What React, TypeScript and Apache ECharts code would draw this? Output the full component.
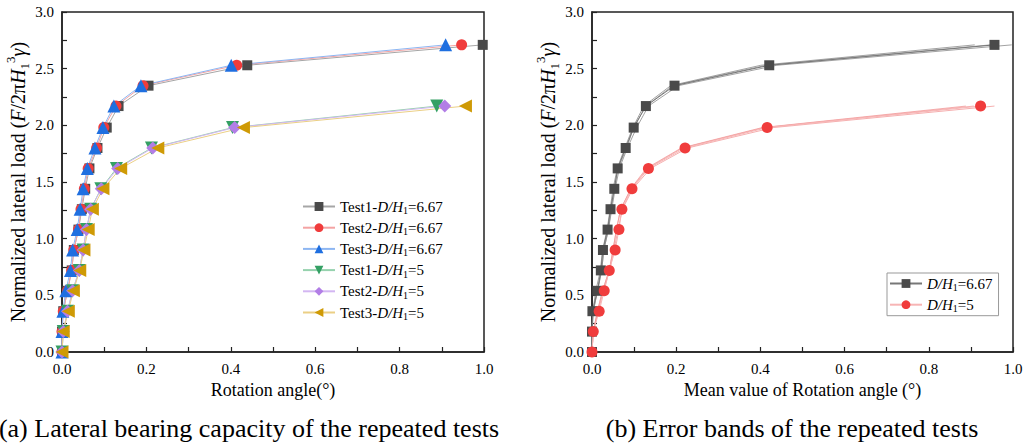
import React, { useEffect, useRef } from 'react';
import * as echarts from 'echarts';

const FONT = 'Liberation Serif';

// Normalized lateral load levels
const loads667 = [0, 0.18, 0.36, 0.54, 0.72, 0.9, 1.08, 1.26, 1.44, 1.62, 1.8, 1.98, 2.17, 2.35, 2.53, 2.71];
const loads5 = [0, 0.18, 0.36, 0.54, 0.72, 0.9, 1.08, 1.26, 1.44, 1.62, 1.8, 1.98, 2.17];

// Rotation angles (deg), panel (a)
const test1Rot667 = [0, 0, 0.003, 0.013, 0.023, 0.028, 0.039, 0.047, 0.055, 0.065, 0.084, 0.106, 0.134, 0.205, 0.439, 0.997];
const test2Rot667 = [0, 0, 0.003, 0.013, 0.023, 0.028, 0.039, 0.045, 0.053, 0.062, 0.082, 0.099, 0.128, 0.192, 0.414, 0.947];
const test3Rot667 = [0, 0, 0.002, 0.009, 0.02, 0.025, 0.036, 0.043, 0.05, 0.06, 0.078, 0.097, 0.123, 0.187, 0.401, 0.909];
const test1Rot5 = [0, 0.003, 0.013, 0.025, 0.041, 0.05, 0.058, 0.068, 0.092, 0.129, 0.212, 0.404, 0.888];
const test2Rot5 = [0, 0.003, 0.013, 0.025, 0.041, 0.05, 0.058, 0.068, 0.093, 0.132, 0.215, 0.409, 0.907];
const test3Rot5 = [0, 0.003, 0.015, 0.027, 0.042, 0.052, 0.062, 0.072, 0.097, 0.139, 0.227, 0.43, 0.956];

// Mean rotation angles, panel (b)
const meanRot667 = [0, 0, 0.001, 0.013, 0.021, 0.026, 0.037, 0.044, 0.053, 0.061, 0.08, 0.099, 0.128, 0.196, 0.421, 0.956];
const meanRot5 = [0, 0.003, 0.017, 0.029, 0.041, 0.055, 0.064, 0.071, 0.095, 0.134, 0.221, 0.416, 0.923];

const xTicks = ['0.0', '0.2', '0.4', '0.6', '0.8', '1.0'];
const yTicks = ['0.0', '0.5', '1.0', '1.5', '2.0', '2.5', '3.0'];

const pair = (xs: number[], ys: number[]) => xs.map((x, i) => [x, ys[i]]);

const richBase = {
  t: { fontFamily: FONT, fontSize: 20, color: '#000', lineHeight: 27 },
  i: { fontFamily: FONT, fontSize: 20, fontStyle: 'italic', color: '#000', lineHeight: 27 },
  sub: { fontFamily: FONT, fontSize: 13, color: '#000', lineHeight: 13, verticalAlign: 'bottom' },
  sup: { fontFamily: FONT, fontSize: 13, color: '#000', lineHeight: 13, verticalAlign: 'top' },
};

const legRich = {
  t: { fontFamily: FONT, fontSize: 15, color: '#000', lineHeight: 18 },
  i: { fontFamily: FONT, fontSize: 15, fontStyle: 'italic', color: '#000', lineHeight: 18 },
  sub: { fontFamily: FONT, fontSize: 10, color: '#000', lineHeight: 10, verticalAlign: 'bottom' },
};

const yName = '{t|Normalized lateral load (}{i|F}{t|/2π}{i|H}{sub|1}{sup|3}{i|γ}{t|)}';

function legendLabel(name: string) {
  const m = name.match(/^(Test\d-)?D\/H1=(.*)$/);
  if (!m) return name;
  return `{t|${m[1] || ''}}{i|D/H}{sub|1}{t|=${m[2]}}`;
}

function makeX(gridIndex: number, name: string) {
  return {
    type: 'value', gridIndex, min: 0, max: 1, interval: 0.2,
    name, nameLocation: 'middle', nameGap: 26,
    nameTextStyle: { fontFamily: FONT, fontSize: 18, color: '#000' },
    axisLine: { show: true, onZero: false, lineStyle: { color: '#222', width: 1.5 } },
    axisTick: { show: true, inside: true, length: 5, lineStyle: { color: '#222', width: 1.2 } },
    minorTick: { show: true, splitNumber: 2, length: 5, lineStyle: { color: '#222', width: 1.2 } },
    splitLine: { show: false },
    axisLabel: {
      fontFamily: FONT, fontSize: 15, color: '#000', margin: 9,
      formatter: (v: number) => xTicks[Math.round(v / 0.2)] ?? '',
    },
  };
}

function makeY(gridIndex: number) {
  return {
    type: 'value', gridIndex, min: 0, max: 3, interval: 0.5,
    name: yName, nameLocation: 'middle', nameGap: 28, nameRotate: 90,
    nameTextStyle: { fontFamily: FONT, rich: richBase },
    axisLine: { show: true, onZero: false, lineStyle: { color: '#222', width: 1.5 } },
    axisTick: { show: true, inside: true, length: 5, lineStyle: { color: '#222', width: 1.2 } },
    minorTick: { show: true, splitNumber: 2, length: 5, lineStyle: { color: '#222', width: 1.2 } },
    splitLine: { show: false },
    axisLabel: {
      fontFamily: FONT, fontSize: 15, color: '#000', margin: 8,
      formatter: (v: number) => yTicks[Math.round(v / 0.5)] ?? '',
    },
  };
}

function testSeries(name: string, xs: number[], ys: number[], symbol: string, rotate: number, size: number, color: string, lineColor: string) {
  return {
    type: 'line', name, xAxisIndex: 0, yAxisIndex: 0,
    data: pair(xs, ys), symbol, symbolRotate: rotate, symbolSize: size,
    showAllSymbol: true,
    itemStyle: { color, borderWidth: 0 },
    lineStyle: { color: lineColor, width: 1 },
    emphasis: { disabled: true },
  };
}

function bandSeries(name: string, xs: number[], ys: number[], color: string) {
  return {
    type: 'line', name, xAxisIndex: 1, yAxisIndex: 1,
    data: pair(xs, ys), symbol: 'none',
    lineStyle: { color, width: 0.8 },
    emphasis: { disabled: true },
  };
}

export default function App() {
  const ref = useRef<HTMLDivElement>(null);
  useEffect(() => {
    if (!ref.current) return;
    const chart = echarts.init(ref.current, undefined, { renderer: 'svg' });
    const s1 = 'Test1-D/H1=6.67', s2 = 'Test2-D/H1=6.67', s3 = 'Test3-D/H1=6.67';
    const s4 = 'Test1-D/H1=5', s5 = 'Test2-D/H1=5', s6 = 'Test3-D/H1=5';
    const m1 = 'D/H1=6.67', m2 = 'D/H1=5';
    chart.setOption({
      animation: false,
      backgroundColor: '#fff',
      textStyle: { fontFamily: FONT },
      grid: [
        { left: 62, top: 12, width: 422, height: 340, show: true, borderColor: '#222', borderWidth: 1.5, backgroundColor: 'transparent' },
        { left: 592, top: 12, width: 421, height: 340, show: true, borderColor: '#222', borderWidth: 1.5, backgroundColor: 'transparent' },
      ],
      xAxis: [makeX(0, 'Rotation angle(°)'), makeX(1, 'Mean value of Rotation angle (°)')],
      yAxis: [makeY(0), makeY(1)],
      legend: [
        {
          data: [s1, s2, s3, s4, s5, s6], orient: 'vertical', left: 300, top: 197,
          itemWidth: 32, itemHeight: 11, itemGap: 4.7, padding: 2,
          formatter: legendLabel, textStyle: { fontFamily: FONT, rich: legRich },
          selectedMode: false,
        },
        {
          data: [m1, m2], orient: 'vertical', left: 887, top: 273,
          itemWidth: 32, itemHeight: 11, itemGap: 4.7, padding: [3, 6, 2, 2],
          borderColor: '#999', borderWidth: 1,
          formatter: legendLabel, textStyle: { fontFamily: FONT, rich: legRich },
          selectedMode: false,
        },
      ],
      series: [
        testSeries(s1, test1Rot667, loads667, 'rect', 0, 10, '#4a4a4a', '#a6a6a6'),
        testSeries(s2, test2Rot667, loads667, 'circle', 0, 11, '#f03c3c', '#f4a3a3'),
        testSeries(s3, test3Rot667, loads667, 'triangle', 0, 13, '#1f6fe0', '#8db6f2'),
        testSeries(s4, test1Rot5, loads5, 'triangle', 180, 13, '#34a064', '#96d2ae'),
        testSeries(s5, test2Rot5, loads5, 'diamond', 0, 13, '#b27ee6', '#d3b6f2'),
        testSeries(s6, test3Rot5, loads5, 'triangle', 90, 13, '#cf9a05', '#ebcf85'),
        bandSeries('band-a1', test1Rot667, loads667, '#8a8a8a'),
        bandSeries('band-a2', test2Rot667, loads667, '#8a8a8a'),
        bandSeries('band-a3', test3Rot667, loads667, '#8a8a8a'),
        bandSeries('band-b1', test1Rot5, loads5, '#f39a9a'),
        bandSeries('band-b2', test2Rot5, loads5, '#f39a9a'),
        bandSeries('band-b3', test3Rot5, loads5, '#f39a9a'),
        {
          type: 'line', name: m1, xAxisIndex: 1, yAxisIndex: 1,
          data: pair(meanRot667, loads667), symbol: 'rect', symbolSize: 10, showAllSymbol: true,
          itemStyle: { color: '#4a4a4a' }, lineStyle: { color: '#777', width: 1 },
          emphasis: { disabled: true },
        },
        {
          type: 'line', name: m2, xAxisIndex: 1, yAxisIndex: 1,
          data: pair(meanRot5, loads5), symbol: 'circle', symbolSize: 11, showAllSymbol: true,
          itemStyle: { color: '#f03c3c' }, lineStyle: { color: '#f7b5b5', width: 1 },
          emphasis: { disabled: true },
        },
      ],
      graphic: [
        {
          type: 'text', x: 249, y: 428,
          style: { text: '(a) Lateral bearing capacity of the repeated tests', fontFamily: FONT, fontSize: 26, fill: '#000', align: 'center', verticalAlign: 'middle' },
        },
        {
          type: 'text', x: 792, y: 428,
          style: { text: '(b) Error bands of the repeated tests', fontFamily: FONT, fontSize: 26, fill: '#000', align: 'center', verticalAlign: 'middle' },
        },
      ],
    });
    return () => chart.dispose();
  }, []);
  return <div ref={ref} style={{ position: 'fixed', left: 0, top: 0, width: 1027, height: 445 }} />;
}
